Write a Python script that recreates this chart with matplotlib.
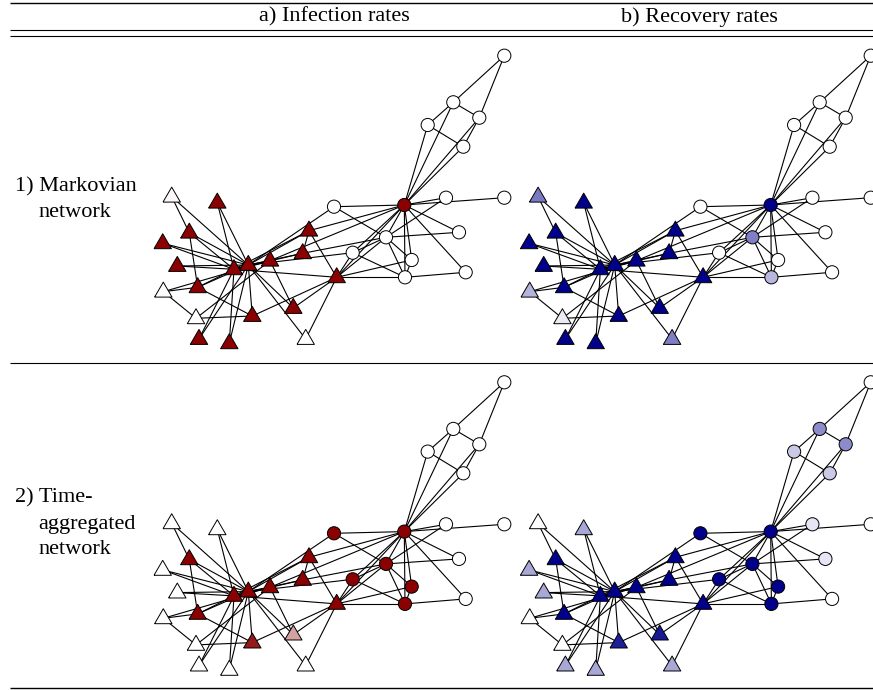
import matplotlib
matplotlib.use('Agg')
import matplotlib.pyplot as plt
from matplotlib.collections import LineCollection
from matplotlib.colors import LinearSegmentedColormap
import numpy as np

plt.rcParams['font.family'] = ['Liberation Serif', 'DejaVu Serif']

## karate club network, nodes 1..34
edges = [(1,2),(1,3),(1,4),(1,5),(1,6),(1,7),(1,8),(1,9),(1,11),(1,12),(1,13),(1,14),
         (1,18),(1,20),(1,22),(1,32),(2,3),(2,4),(2,8),(2,14),(2,18),(2,20),(2,22),(2,31),
         (3,4),(3,8),(3,9),(3,10),(3,14),(3,28),(3,29),(3,33),(4,8),(4,13),(4,14),
         (5,7),(5,11),(6,7),(6,11),(6,17),(7,17),(9,31),(9,33),(9,34),(10,34),(14,34),
         (15,33),(15,34),(16,33),(16,34),(19,33),(19,34),(20,34),(21,33),(21,34),
         (23,33),(23,34),(24,26),(24,28),(24,30),(24,33),(24,34),(25,26),(25,28),(25,32),
         (26,32),(27,30),(27,34),(28,34),(29,32),(29,34),(30,33),(30,34),(31,33),(31,34),
         (32,33),(32,34),(33,34)]

## layout (node 1 first)
pos_x = [404.3, 386.0, 336.7, 405.0, 463.3, 453.3, 479.3, 411.7, 309.0, 305.7,
         427.7, 504.3, 465.7, 352.7, 217.3, 162.7, 504.3, 446.0, 177.3, 334.0,
         199.0, 459.0, 229.3, 197.7, 196.0, 163.3, 171.7, 252.3, 293.3, 189.3,
         302.7, 270.0, 234.0, 248.3]
pos_y = [205.0, 237.3, 277.3, 277.3, 146.7, 102.3, 117.7, 260.0, 230.7, 339.0,
         125.0, 197.7, 272.3, 252.7, 202.7, 243.3, 55.7, 197.7, 266.0, 206.7,
         339.0, 232.3, 343.3, 287.3, 318.3, 291.7, 196.7, 316.0, 308.0, 232.7,
         253.3, 260.7, 269.3, 265.0]

circles = [1, 2, 4, 5, 6, 7, 8, 11, 12, 13, 14, 17, 18, 20, 22]

## node values per panel (0 = white, 1 = full colour)
markov_inf = [1, 0, 1, 0, 0, 0, 0, 0, 1, 0,
              0, 0, 0, 0, 1, 1, 0, 0, 1, 0,
              1, 0, 1, 1, 0, 0, 0.03, 1, 1, 1,
              1, 1, 1, 1]
markov_rec = [1, 0.5, 1, 0.28, 0, 0, 0, 0, 1, 0.5,
              0, 0, 0, 0, 1, 1, 0, 0, 1, 0,
              1, 0, 1, 1, 0.08, 0.3, 0.52, 1, 1, 1,
              1, 1, 1, 1]
aggr_inf = [1, 1, 1, 1, 0, 0, 0, 1, 1, 0,
            0, 0, 0, 1, 0, 0, 0, 0, 0, 1,
            0, 0, 0, 1, 0, 0, 0, 0.9, 0.37, 1,
            1, 1, 1, 1]
aggr_rec = [1, 1, 1, 1, 0.21, 0.45, 0.45, 1, 1, 0.34,
            0.21, 0, 0, 1, 0.34, 0.34, 0, 0.1, 0.34, 1,
            0.34, 0.1, 0.34, 1, 0, 0, 0, 0.88, 0.9, 1,
            1, 1, 1, 1]

col_titles = ['a) Infection rates', 'b) Recovery rates']
row_titles = [['1) Markovian', 'network'], ['2) Time-', 'aggregated', 'network']]

cm_inf = LinearSegmentedColormap.from_list('inf', ['white', '#8b0000'])
cm_rec = LinearSegmentedColormap.from_list('rec', ['white', '#00008b'])

W, H = 873, 690
fig = plt.figure(figsize=(W/100, H/100), dpi=100)

## table rules and labels
bg = fig.add_axes([0, 0, 1, 1])
bg.set_xlim(0, W); bg.set_ylim(H, 0); bg.axis('off')
bg.hlines([3], 10, W, color='black', lw=1.0)
bg.hlines([30, 36, 363], 10, W, color='black', lw=0.8)
bg.hlines([688], 10, W, color='black', lw=1.0)
for c, t in enumerate(col_titles):
    bg.text(334 + 365*c, 17, t, ha='center', va='center', fontsize=16)
for r, lines in enumerate(row_titles):
    yc = 199.5 + 324.5*r
    y0 = yc - (len(lines) - 1)*0.5*25.7
    for k, ln in enumerate(lines):
        bg.text(15 if k == 0 else 38, y0 + 25.7*k, ln, ha='left', va='center', fontsize=16)

def draw(ax, vals, cmap):
    segs = [[(pos_x[a-1], pos_y[a-1]), (pos_x[b-1], pos_y[b-1])] for a, b in edges]
    ax.add_collection(LineCollection(segs, colors='black', linewidths=0.8, zorder=1))
    vals = np.array(vals)
    x, y = np.array(pos_x), np.array(pos_y)
    isc = np.array([i+1 in circles for i in range(34)])
    tri = [(-1, -0.62), (1, -0.62), (0, 1.1), (-1, -0.62)]
    ax.scatter(x[isc], y[isc], s=90, c=vals[isc], cmap=cmap, vmin=0, vmax=1,
               edgecolors='black', linewidths=0.7, zorder=2, clip_on=False)
    ax.scatter(x[~isc], y[~isc], s=190, marker=tri, c=vals[~isc], cmap=cmap, vmin=0, vmax=1,
               edgecolors='black', linewidths=0.7, zorder=2, clip_on=False)

panels = [[(markov_inf, cm_inf), (markov_rec, cm_rec)],
          [(aggr_inf, cm_inf), (aggr_rec, cm_rec)]]
for r in range(2):
    for c in range(2):
        L, T, PW, PH = 150 + 366.4*c, 45 + 326.6*r, 360, 305
        ax = fig.add_axes([L/W, 1 - (T+PH)/H, PW/W, PH/H])
        ax.set_xlim(150, 510); ax.set_ylim(350, 45)
        ax.axis('off')
        draw(ax, *panels[r][c])

fig.savefig('out.png', dpi=100)
